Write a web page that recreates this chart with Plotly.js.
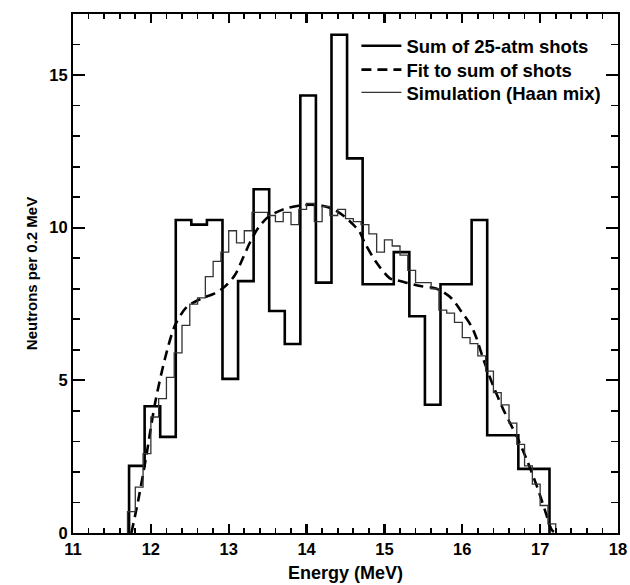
<!DOCTYPE html>
<html>
<head>
<meta charset="utf-8">
<script src="https://cdn.plot.ly/plotly-3.0.1.min.js"></script>
<style>
  html, body { margin: 0; padding: 0; background: #fff; }
  #chart { width: 630px; height: 585px; }
</style>
</head>
<body>
<div id="chart"></div>
<script>
// ---- Data ----
// Measured histogram ("Sum of 25-atm shots"), 0.2 MeV bins
const shotsStart = 11.72;
const shotsWidth = 0.2;
const shotsValues = [2.2, 4.15, 3.15, 10.25, 10.1, 10.25, 5.05, 8.25, 11.26, 7.27,
                     6.19, 14.33, 8.2, 16.32, 12.27, 8.15, 8.15, 9.2, 7.1, 4.2,
                     8.15, 8.15, 10.25, 3.2, 3.2, 2.1, 2.1];

// Simulation (Haan mix), 0.1 MeV bins
const simStart = 11.7;
const simWidth = 0.1;
const simValues = [0.7, 1.5, 2.6, 3.8, 4.4, 5.1, 5.9, 6.8, 7.5, 7.7,
                   8.4, 8.9, 9.2, 9.9, 9.5, 9.9, 10.5, 10.5, 10.4, 10.2,
                   10.5, 10.1, 10.6, 10.8, 10.2, 10.7, 10.4, 10.6, 10.3, 10.2,
                   10.1, 9.8, 9.2, 9.6, 9.4, 9.1, 8.6, 8.2, 8.2, 8.0,
                   7.3, 7.2, 6.9, 6.4, 6.2, 5.8, 5.3, 4.6, 4.2, 3.6,
                   2.9, 2.2, 1.6, 0.9, 0.3];

// Fit to sum of shots (dashed curve)
const fitX = [11.75, 11.84, 11.94, 12.05, 12.18, 12.31, 12.46, 12.65, 12.82, 12.95,
              13.08, 13.19, 13.27, 13.38, 13.51, 13.7, 13.9, 14.05, 14.2, 14.35,
              14.49, 14.6, 14.68, 14.75, 14.9, 15.07, 15.16, 15.28, 15.46, 15.61,
              15.71, 15.86, 15.99, 16.12, 16.18, 16.27, 16.4, 16.53, 16.7, 16.83,
              16.96, 17.06, 17.15, 17.2];
const fitY = [0, 1.1, 2.5, 4.2, 5.7, 6.8, 7.4, 7.68, 7.85, 8.07,
              8.45, 9.05, 9.5, 10.0, 10.36, 10.6, 10.72, 10.75, 10.72, 10.6,
              10.36, 10.1, 9.87, 9.49, 8.85, 8.34, 8.28, 8.2, 8.09, 8.04,
              7.96, 7.69, 7.25, 6.76, 6.4, 5.7, 4.8, 4.03, 3.16, 2.39,
              1.52, 0.76, 0.1, 0];

const seriesNames = ['Sum of 25-atm shots', 'Fit to sum of shots', 'Simulation (Haan mix)'];
const xTitle = 'Energy (MeV)';
const yTitle = 'Neutrons per 0.2 MeV';

// ---- Build step outlines from bin edges ----
function stepOutline(start, width, values) {
  const xs = [start], ys = [0];
  values.forEach((v, i) => { xs.push(start + i * width); ys.push(v); });
  xs.push(start + values.length * width); ys.push(0);
  return {x: xs, y: ys};
}
const shots = stepOutline(shotsStart, shotsWidth, shotsValues);
const sim = stepOutline(simStart, simWidth, simValues);

const FONT = 'Liberation Sans, Arial, Helvetica, sans-serif';

const traces = [
  {x: shots.x, y: shots.y, type: 'scatter', mode: 'lines', name: seriesNames[0], legend: 'legend',
   line: {shape: 'hv', color: '#000', width: 2.6}},
  {x: fitX, y: fitY, type: 'scatter', mode: 'lines', name: seriesNames[1], legend: 'legend2',
   line: {shape: 'spline', smoothing: 0.8, color: '#000', width: 2.6, dash: '10px,6px'}},
  {x: sim.x, y: sim.y, type: 'scatter', mode: 'lines', name: seriesNames[2], legend: 'legend3',
   line: {shape: 'hv', color: '#333', width: 1.3}}
];

const tickFont = {family: FONT, size: 16.5, color: '#000', weight: 'bold'};
const legendFont = {family: FONT, size: 18.5, color: '#000', weight: 'bold'};
function legendAt(yPaper) {
  return {x: 0.52, y: yPaper, xanchor: 'left', yanchor: 'middle', bgcolor: 'rgba(0,0,0,0)',
          borderwidth: 0, font: legendFont, itemwidth: 40};
}

const layout = {
  width: 630, height: 585,
  margin: {l: 73, r: 12, t: 14, b: 52},
  paper_bgcolor: '#fff', plot_bgcolor: '#fff',
  font: {family: FONT, color: '#000'},
  showlegend: true,
  legend: legendAt(0.938),
  legend2: legendAt(0.892),
  legend3: legendAt(0.848),
  xaxis: {
    range: [11, 18], dtick: 1, ticks: 'inside', ticklen: 9, tickwidth: 2.2, tickcolor: '#000',
    showline: true, mirror: 'allticks', linecolor: '#000', linewidth: 2,
    showgrid: false, zeroline: false, tickfont: tickFont,
    minor: {dtick: 0.2, ticks: 'inside', ticklen: 5, tickwidth: 1.8, tickcolor: '#000'},
    title: {text: xTitle, font: {family: FONT, size: 18, color: '#000', weight: 'bold'}, standoff: 10}
  },
  yaxis: {
    range: [0, 17], dtick: 5, ticks: 'inside', ticklen: 12, tickwidth: 2.2, tickcolor: '#000',
    showline: true, mirror: 'allticks', linecolor: '#000', linewidth: 2,
    showgrid: false, zeroline: false, tickfont: tickFont,
    minor: {dtick: 1, ticks: 'inside', ticklen: 7, tickwidth: 1.8, tickcolor: '#000'},
    title: {text: yTitle, font: {family: FONT, size: 15, color: '#000', weight: 'bold'}, standoff: 8}
  }
};

Plotly.newPlot('chart', traces, layout, {displayModeBar: false, staticPlot: true});
</script>
</body>
</html>
